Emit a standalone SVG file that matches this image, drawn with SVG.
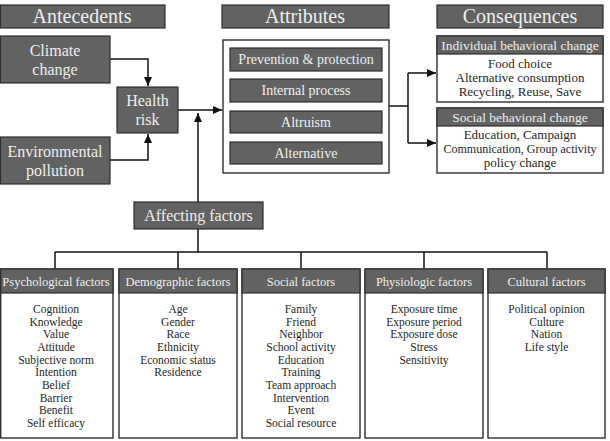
<svg xmlns="http://www.w3.org/2000/svg" width="610" height="441" viewBox="0 0 610 441">
<style>
.dk{fill:#626262;stroke:#2e2e2e;stroke-width:1.2}
.wb{fill:#ffffff;stroke:#2e2e2e;stroke-width:1.4}
.lt{font-family:"Liberation Serif","Times New Roman",serif;fill:#efefef;text-anchor:middle}
.bk{font-family:"Liberation Serif","Times New Roman",serif;fill:#262626;text-anchor:middle}
.h1{font-size:20px}
.h2{font-size:16px}
.h3{font-size:14px}
.h4{font-size:13.5px}
.h5{font-size:12.5px}
.it{font-size:11.5px}
.ci{font-size:13px}
.ln{fill:none;stroke:#111;stroke-width:1.5}
</style>
<defs>
<marker id="ah" markerWidth="10" markerHeight="8" refX="9" refY="4" orient="auto" markerUnits="userSpaceOnUse">
<path d="M0,0 L9,4 L0,8 Z" fill="#111"/>
</marker>
</defs>
<rect width="610" height="441" fill="#ffffff"/>

<g id="connectors">
<path class="ln" d="M110,59 H148 V86" marker-end="url(#ah)"/>
<path class="ln" d="M110,160 H148 V134" marker-end="url(#ah)"/>
<path class="ln" d="M178,110 H222" marker-end="url(#ah)"/>
<path class="ln" d="M198,202 V113" marker-end="url(#ah)"/>
<path class="ln" d="M389,106 H408"/>
<path class="ln" d="M408,73 V143"/>
<path class="ln" d="M408,73 H436" marker-end="url(#ah)"/>
<path class="ln" d="M408,143 H436" marker-end="url(#ah)"/>
<path class="ln" d="M198,229 V252"/>
<path class="ln" d="M55,252 H547"/>
<path class="ln" d="M55,252 V269 M178,252 V269 M301,252 V269 M424,252 V269 M547,252 V269"/>
</g>

<g id="antecedents-header">
<rect class="dk" x="0.5" y="5" width="164.5" height="23"/>
<text class="lt h1" x="82" y="23">Antecedents</text>
</g>
<g id="attributes-header">
<rect class="dk" x="222" y="5" width="167" height="23"/>
<text class="lt h1" x="305" y="23">Attributes</text>
</g>
<g id="consequences-header">
<rect class="dk" x="437" y="5" width="166" height="23"/>
<text class="lt h1" x="520" y="23">Consequences</text>
</g>

<g id="climate-change">
<rect class="dk" x="0.5" y="36" width="109.5" height="47"/>
<text class="lt h2" x="55" y="56">Climate</text>
<text class="lt h2" x="55" y="75">change</text>
</g>
<g id="environmental-pollution">
<rect class="dk" x="0.5" y="137" width="109.5" height="47"/>
<text class="lt h2" x="55" y="157">Environmental</text>
<text class="lt h2" x="55" y="176">pollution</text>
</g>
<g id="health-risk">
<rect class="dk" x="117" y="87" width="61" height="46"/>
<text class="lt h2" x="147.5" y="106">Health</text>
<text class="lt h2" x="147.5" y="125">risk</text>
</g>

<g id="attributes">
<rect class="wb" x="223" y="40" width="166" height="133"/>
<rect class="dk" x="230" y="48" width="152" height="23"/>
<text class="lt h3" x="306" y="64">Prevention &amp; protection</text>
<rect class="dk" x="230" y="79" width="152" height="23"/>
<text class="lt h3" x="306" y="95">Internal process</text>
<rect class="dk" x="230" y="111" width="152" height="22"/>
<text class="lt h3" x="306" y="127">Altruism</text>
<rect class="dk" x="230" y="142" width="152" height="22"/>
<text class="lt h3" x="306" y="158">Alternative</text>
</g>

<g id="individual-behavioral-change">
<rect class="wb" x="437" y="36" width="166" height="66"/>
<rect class="dk" x="437" y="36" width="166" height="18"/>
<text class="lt h4" x="520" y="50">Individual behavioral change</text>
<text class="bk ci" x="520" y="68">Food choice</text>
<text class="bk ci" x="520" y="82">Alternative consumption</text>
<text class="bk ci" x="520" y="96">Recycling, Reuse, Save</text>
</g>
<g id="social-behavioral-change">
<rect class="wb" x="437" y="108" width="166" height="65"/>
<rect class="dk" x="437" y="108" width="166" height="18"/>
<text class="lt h4" x="520" y="122">Social behavioral change</text>
<text class="bk ci" x="520" y="139">Education, Campaign</text>
<text class="bk ci" x="520" y="153" textLength="153" lengthAdjust="spacingAndGlyphs">Communication, Group activity</text>
<text class="bk ci" x="520" y="167">policy change</text>
</g>

<g id="affecting-factors">
<rect class="dk" x="134" y="202" width="129" height="27"/>
<text class="lt h2" x="198.5" y="221">Affecting factors</text>
</g>

<g id="psychological-factors">
<rect class="wb" x="0.7" y="269" width="112.3" height="169"/>
<rect class="dk" x="0.7" y="269" width="112.3" height="24"/>
<text class="lt h5" x="56" y="286">Psychological factors</text>
<text class="bk it" x="56" y="313">Cognition</text>
<text class="bk it" x="56" y="325.7">Knowledge</text>
<text class="bk it" x="56" y="338.3">Value</text>
<text class="bk it" x="56" y="351">Attitude</text>
<text class="bk it" x="56" y="363.7">Subjective norm</text>
<text class="bk it" x="56" y="376.3">Intention</text>
<text class="bk it" x="56" y="389">Belief</text>
<text class="bk it" x="56" y="401.7">Barrier</text>
<text class="bk it" x="56" y="414.3">Benefit</text>
<text class="bk it" x="56" y="427">Self efficacy</text>
</g>
<g id="demographic-factors">
<rect class="wb" x="119" y="269" width="118" height="169"/>
<rect class="dk" x="119" y="269" width="118" height="24"/>
<text class="lt h5" x="178" y="286">Demographic factors</text>
<text class="bk it" x="178" y="313">Age</text>
<text class="bk it" x="178" y="325.7">Gender</text>
<text class="bk it" x="178" y="338.3">Race</text>
<text class="bk it" x="178" y="351">Ethnicity</text>
<text class="bk it" x="178" y="363.7">Economic status</text>
<text class="bk it" x="178" y="376.3">Residence</text>
</g>
<g id="social-factors">
<rect class="wb" x="242" y="269" width="118" height="169"/>
<rect class="dk" x="242" y="269" width="118" height="24"/>
<text class="lt h5" x="301" y="286">Social factors</text>
<text class="bk it" x="301" y="313">Family</text>
<text class="bk it" x="301" y="325.7">Friend</text>
<text class="bk it" x="301" y="338.3">Neighbor</text>
<text class="bk it" x="301" y="351">School activity</text>
<text class="bk it" x="301" y="363.7">Education</text>
<text class="bk it" x="301" y="376.3">Training</text>
<text class="bk it" x="301" y="389">Team approach</text>
<text class="bk it" x="301" y="401.7">Intervention</text>
<text class="bk it" x="301" y="414.3">Event</text>
<text class="bk it" x="301" y="427">Social resource</text>
</g>
<g id="physiologic-factors">
<rect class="wb" x="365" y="269" width="118" height="169"/>
<rect class="dk" x="365" y="269" width="118" height="24"/>
<text class="lt h5" x="424" y="286">Physiologic factors</text>
<text class="bk it" x="424" y="313">Exposure time</text>
<text class="bk it" x="424" y="325.7">Exposure period</text>
<text class="bk it" x="424" y="338.3">Exposure dose</text>
<text class="bk it" x="424" y="351">Stress</text>
<text class="bk it" x="424" y="363.7">Sensitivity</text>
</g>
<g id="cultural-factors">
<rect class="wb" x="488" y="269" width="117" height="169"/>
<rect class="dk" x="488" y="269" width="117" height="24"/>
<text class="lt h5" x="546.5" y="286">Cultural factors</text>
<text class="bk it" x="546.5" y="313">Political opinion</text>
<text class="bk it" x="546.5" y="325.7">Culture</text>
<text class="bk it" x="546.5" y="338.3">Nation</text>
<text class="bk it" x="546.5" y="351">Life style</text>
</g>
</svg>
